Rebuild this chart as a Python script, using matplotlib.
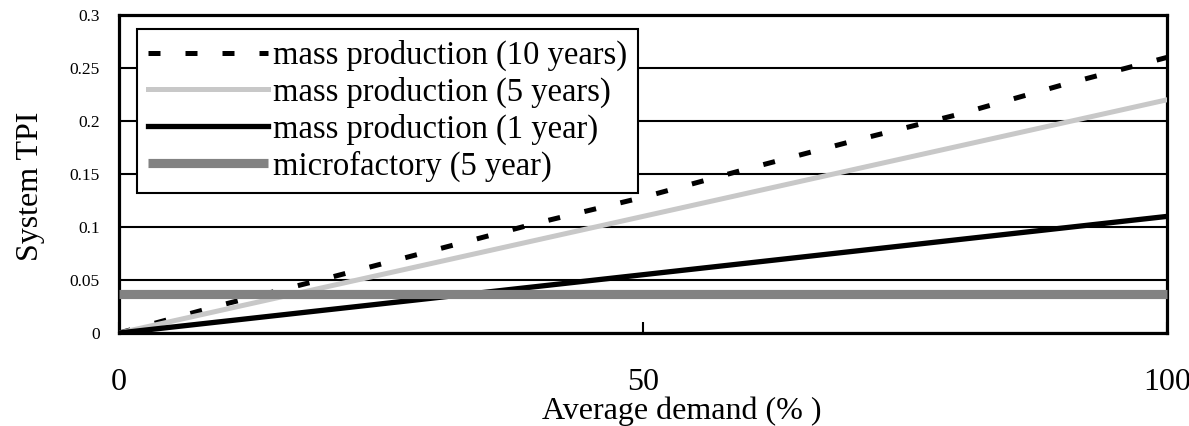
import numpy as np
import matplotlib
matplotlib.use('Agg')
import matplotlib.pyplot as plt

# values
demand = [0, 10, 20, 30, 40, 50, 60, 70, 80, 90, 100]
tpi_mass_10y = [0, 0.027, 0.052, 0.078, 0.104, 0.128, 0.155, 0.181, 0.206, 0.234, 0.26]
tpi_mass_5y = [0, 0.022, 0.044, 0.066, 0.088, 0.11, 0.132, 0.154, 0.176, 0.198, 0.22]
tpi_mass_1y = [0, 0.011, 0.022, 0.033, 0.044, 0.055, 0.066, 0.077, 0.088, 0.099, 0.11]
tpi_micro_5y = [0.037] * len(demand)

labels = ['mass production (10 years)', 'mass production (5 years)',
          'mass production (1 year)', 'microfactory (5 year)']
x_ticks = [0, 50, 100]
y_ticks = [0, 0.05, 0.1, 0.15, 0.2, 0.25, 0.3]
y_ticklabels = ['0', '0.05', '0.1', '0.15', '0.2', '0.25', '0.3']

plt.rcParams['font.family'] = ['Liberation Serif', 'DejaVu Serif']

fig = plt.figure(figsize=(11.89, 4.26), dpi=100)
ax = fig.add_axes([119 / 1189, 1 - 333 / 426, 1048 / 1189, 318 / 426])

ax.plot(demand, tpi_mass_10y, color='black', lw=3.6, linestyle=(0, (2.4, 5)),
        dash_capstyle='butt', label=labels[0], zorder=3)
ax.plot(demand, tpi_mass_5y, color='#c8c8c8', lw=3.6, label=labels[1], zorder=3)
ax.plot(demand, tpi_mass_1y, color='black', lw=3.8, label=labels[2], zorder=3)
ax.plot(demand, tpi_micro_5y, color='#828282', lw=6.6, label=labels[3],
        solid_capstyle='butt', zorder=4, clip_on=False)

ax.set_xlim(0, 100)
ax.set_ylim(0, 0.3)
ax.set_xticks(x_ticks)
ax.set_xticklabels([str(v) for v in x_ticks], fontsize=23)
ax.set_yticks(y_ticks)
ax.set_yticklabels(y_ticklabels, fontsize=12.5)
ax.tick_params(axis='x', direction='in', length=8, width=1.5, pad=25)
ax.tick_params(axis='y', length=0, pad=14)

ax.yaxis.grid(True, color='black', lw=1.5)
ax.set_axisbelow(True)
for s in ax.spines.values():
    s.set_linewidth(2.3)
    s.set_color('black')

ax.set_xlabel('Average demand (% )', fontsize=23)
ax.xaxis.set_label_coords(0.537, -0.2)
ax.set_ylabel('System TPI', fontsize=23)
ax.yaxis.set_label_coords(-0.071, 0.462)

leg = ax.legend(loc='upper left', bbox_to_anchor=(0.0172, 0.956), borderaxespad=0,
                fontsize=23.5, frameon=True, fancybox=False, framealpha=1,
                handlelength=3.68, handletextpad=0.15, labelspacing=0.17,
                borderpad=0.34)
leg.get_frame().set_edgecolor('black')
leg.get_frame().set_linewidth(1.5)
leg.set_zorder(10)

plt.savefig('out.png', dpi=100)
